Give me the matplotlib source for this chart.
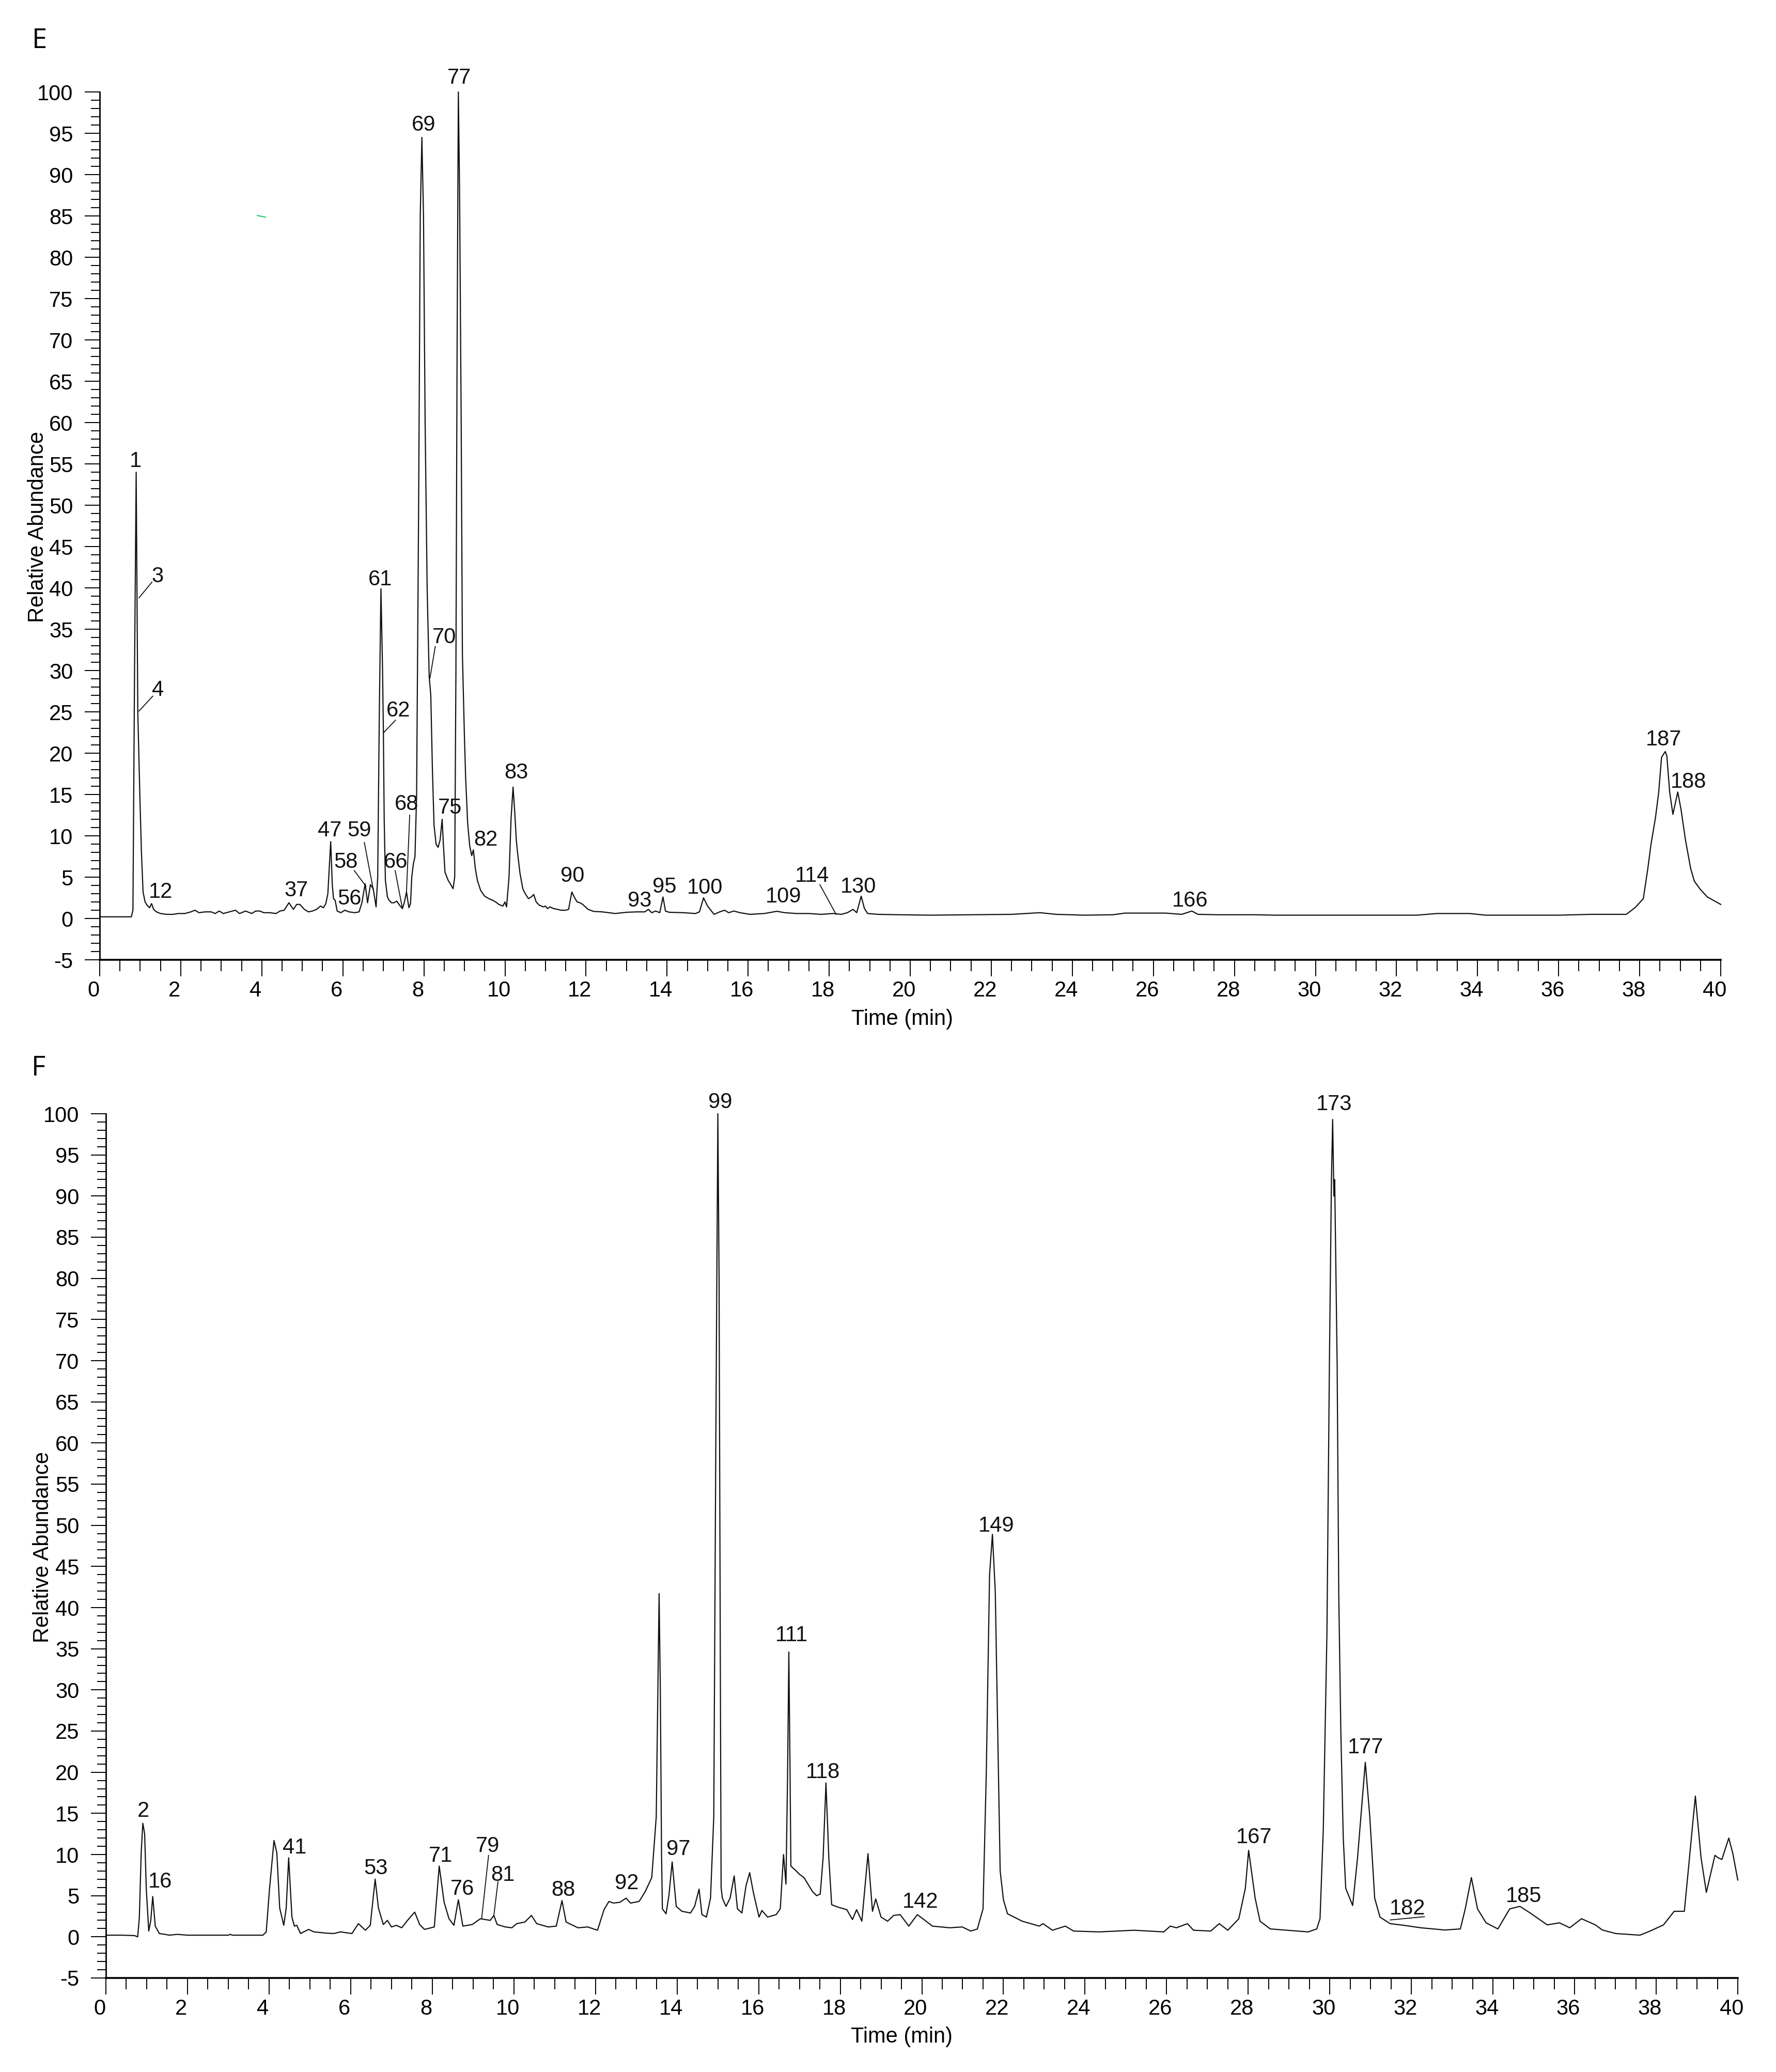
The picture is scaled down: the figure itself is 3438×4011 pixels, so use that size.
import matplotlib
matplotlib.use("Agg")
import matplotlib.pyplot as plt
import matplotlib.transforms as mtransforms
from matplotlib.ticker import MultipleLocator

plt.rcParams["font.family"] = ["Liberation Sans", "DejaVu Sans"]
plt.rcParams["axes.unicode_minus"] = False

# ---- panel E trace (time in min, relative abundance) ----
E_TIME = [0.00, 0.78, 0.82, 0.86, 0.90, 0.92, 0.94, 0.99, 1.03, 1.07, 1.12, 1.17, 1.23, 1.28,
          1.33, 1.40, 1.50, 1.65, 1.80, 1.95, 2.10, 2.25, 2.35, 2.45, 2.60, 2.75, 2.85, 2.95,
          3.05, 3.20, 3.35, 3.45, 3.60, 3.75, 3.85, 3.95, 4.05, 4.20, 4.35, 4.45, 4.55, 4.67,
          4.78, 4.86, 4.94, 5.05, 5.15, 5.25, 5.35, 5.45, 5.52, 5.58, 5.63, 5.70, 5.74, 5.77,
          5.81, 5.86, 5.95, 6.05, 6.15, 6.30, 6.40, 6.47, 6.55, 6.61, 6.68, 6.75, 6.82, 6.86,
          6.90, 6.94, 6.98, 7.00, 7.02, 7.05, 7.10, 7.14, 7.20, 7.26, 7.33, 7.40, 7.47, 7.52,
          7.57, 7.63, 7.67, 7.70, 7.74, 7.78, 7.82, 7.87, 7.91, 7.95, 7.99, 8.03, 8.08, 8.13,
          8.17, 8.21, 8.25, 8.30, 8.35, 8.40, 8.45, 8.48, 8.52, 8.60, 8.65, 8.72, 8.76, 8.79,
          8.82, 8.85, 8.88, 8.92, 8.95, 9.00, 9.03, 9.08, 9.13, 9.18, 9.22, 9.27, 9.32, 9.40,
          9.50, 9.60, 9.70, 9.77, 9.85, 9.90, 9.95, 10.00, 10.04, 10.10, 10.15, 10.20, 10.24,
          10.28, 10.31, 10.37, 10.44, 10.50, 10.58, 10.65, 10.71, 10.77, 10.85, 10.95, 11.00,
          11.05, 11.11, 11.20, 11.30, 11.38, 11.50, 11.57, 11.65, 11.72, 11.78, 11.85, 11.92,
          12.05, 12.19, 12.40, 12.72, 13.00, 13.26, 13.45, 13.54, 13.62, 13.72, 13.82, 13.90,
          13.96, 14.05, 14.40, 14.70, 14.80, 14.90, 15.00, 15.16, 15.30, 15.42, 15.52, 15.65,
          15.80, 16.04, 16.40, 16.71, 16.90, 17.20, 17.50, 17.80, 18.10, 18.30, 18.45, 18.59,
          18.68, 18.79, 18.87, 18.95, 19.20, 19.75, 20.50, 21.50, 22.50, 23.20, 23.60, 24.30,
          25.00, 25.30, 26.30, 26.70, 26.95, 27.10, 27.60, 28.50, 29.00, 32.50, 33.00, 33.80,
          34.20, 36.00, 36.80, 37.67, 37.89, 38.09, 38.20, 38.28, 38.39, 38.47, 38.54, 38.63,
          38.67, 38.74, 38.82, 38.94, 39.02, 39.13, 39.26, 39.35, 39.50, 39.67, 40.00]
E_ABUND = [0.2, 0.2, 1.0, 30, 54, 39, 25, 15, 8, 3.2, 2.0, 1.6, 1.3, 1.8,
           1.1, 0.8, 0.6, 0.5, 0.5, 0.6, 0.6, 0.8, 1.0, 0.7, 0.8, 0.8, 0.6, 0.9,
           0.6, 0.8, 1.0, 0.6, 0.9, 0.6, 0.9, 0.9, 0.7, 0.7, 0.6, 0.9, 1.0, 1.9,
           1.1, 1.7, 1.7, 1.1, 0.8, 0.9, 1.1, 1.5, 1.3, 1.8, 3.0, 9.3, 4.0, 2.4,
           2.2, 0.9, 0.7, 1.0, 0.8, 0.7, 0.8, 1.9, 4.2, 1.9, 4.1, 3.6, 1.4, 5.0,
           25, 39.9, 30, 22.5, 12, 4.6, 2.6, 2.2, 1.9, 1.9, 2.1, 1.6, 1.2, 2.0,
           3.2, 1.3, 1.8, 5.0, 6.6, 7.5, 15, 50, 85, 94.5, 85, 60, 40, 29.3,
           27, 18, 11.3, 9.0, 8.6, 9.5, 12.0, 9.0, 5.6, 4.6, 4.2, 3.6, 5.0, 30,
           70, 100, 88, 60, 32, 22, 17, 11.5, 8.8, 7.6, 8.3, 6.0, 4.6, 3.4,
           2.7, 2.4, 2.2, 2.0, 1.7, 1.6, 1.5, 2.0, 1.4, 5.0, 12, 15.9, 13,
           9.5, 8.0, 5.5, 3.6, 3.0, 2.4, 2.6, 2.9, 2.0, 1.6, 1.4, 1.5,
           1.2, 1.4, 1.2, 1.1, 1.0, 1.0, 1.1, 3.2, 2.5, 2.0, 1.9, 1.7,
           1.1, 0.85, 0.8, 0.6, 0.75, 0.8, 0.8, 1.1, 0.7, 0.9, 0.7, 2.6,
           0.9, 0.75, 0.7, 0.6, 0.8, 2.5, 1.5, 0.5, 0.8, 1.0, 0.7, 0.9,
           0.7, 0.5, 0.6, 0.87, 0.7, 0.6, 0.6, 0.5, 0.6, 0.5, 0.7, 1.1,
           0.7, 2.7, 1.2, 0.6, 0.5, 0.45, 0.4, 0.45, 0.5, 0.7, 0.5, 0.4,
           0.45, 0.65, 0.65, 0.5, 0.9, 0.5, 0.45, 0.45, 0.4, 0.4, 0.6, 0.6,
           0.4, 0.4, 0.5, 0.5, 1.33, 2.4, 6.0, 9.0, 12.2, 15.3, 19.5, 20.2,
           19.7, 15.3, 12.6, 15.3, 13.2, 9.5, 6.0, 4.5, 3.5, 2.6, 1.7]

# peak numbers of panel E and where their text sits (time, abundance)
E_PEAK_IDS = ["1", "3", "4", "12", "37", "47", "56", "58", "59", "61", "62", "66", "68",
              "69", "70", "75", "77", "82", "83", "90", "93", "95", "100", "109", "114",
              "130", "166", "187", "188"]
E_PEAK_T = [0.89, 1.43, 1.43, 1.50, 4.85, 5.68, 6.16, 6.07, 6.41, 6.92, 7.37, 7.30, 7.57,
            7.99, 8.50, 8.64, 8.87, 9.53, 10.28, 11.66, 13.32, 13.94, 14.93, 16.87, 17.58,
            18.72, 26.91, 38.59, 39.20]
E_PEAK_A = [55.3, 41.4, 27.6, 3.2, 3.4, 10.6, 2.4, 6.8, 10.6, 41.0, 25.1, 6.8, 13.8,
            96.0, 34.0, 13.4, 101.7, 9.5, 17.6, 5.1, 2.1, 3.8, 3.7, 2.6, 5.1,
            3.8, 2.1, 21.6, 16.5]
# leader lines: (t0, a0, t1, a1)
E_LEADERS = [(0.97, 38.8, 1.29, 40.7), (0.97, 25.1, 1.31, 26.9), (6.28, 5.8, 6.57, 3.9),
             (6.53, 9.2, 6.75, 3.5), (7.01, 22.5, 7.30, 24.0), (7.29, 5.8, 7.47, 1.2),
             (7.65, 12.5, 7.57, 3.25), (8.28, 32.9, 8.15, 29.1), (17.77, 4.1, 18.17, 0.5)]

# ---- panel F trace ----
F_TIME = [0.00, 0.40, 0.70, 0.78, 0.82, 0.865, 0.905, 0.95, 0.99, 1.05, 1.10, 1.148, 1.21,
          1.31, 1.45, 1.55, 1.75, 2.00, 2.50, 3.00, 3.05, 3.10, 3.50, 3.85, 3.93, 4.01, 4.12,
          4.19, 4.26, 4.36, 4.42, 4.48, 4.56, 4.62, 4.68, 4.77, 4.97, 5.10, 5.40, 5.59, 5.75,
          6.03, 6.19, 6.36, 6.48, 6.60, 6.68, 6.80, 6.90, 7.00, 7.12, 7.25, 7.41, 7.57, 7.69,
          7.81, 8.05, 8.17, 8.29, 8.41, 8.53, 8.64, 8.75, 8.98, 9.18, 9.30, 9.42, 9.51, 9.59,
          9.79, 9.95, 10.07, 10.27, 10.43, 10.56, 10.84, 11.04, 11.18, 11.28, 11.57, 11.81,
          12.05, 12.21, 12.33, 12.44, 12.60, 12.75, 12.86, 13.07, 13.22, 13.38, 13.49, 13.53,
          13.56, 13.59, 13.62, 13.64, 13.73, 13.80, 13.88, 13.98, 14.12, 14.33, 14.43, 14.54,
          14.61, 14.72, 14.82, 14.90, 14.95, 15.00, 15.03, 15.06, 15.08, 15.11, 15.20, 15.30,
          15.40, 15.48, 15.59, 15.69, 15.78, 15.87, 16.01, 16.08, 16.22, 16.43, 16.53, 16.61,
          16.67, 16.71, 16.74, 16.77, 16.79, 16.90, 17.00, 17.11, 17.21, 17.32, 17.42, 17.51,
          17.58, 17.65, 17.72, 17.79, 17.95, 18.16, 18.30, 18.40, 18.53, 18.68, 18.79, 18.87,
          19.00, 19.16, 19.31, 19.47, 19.68, 19.89, 20.05, 20.26, 20.68, 20.99, 21.20, 21.36,
          21.50, 21.58, 21.66, 21.73, 21.80, 21.86, 21.92, 22.00, 22.10, 22.46, 22.88, 22.97,
          23.20, 23.52, 23.72, 24.35, 25.20, 25.93, 26.09, 26.24, 26.51, 26.66, 27.08, 27.29,
          27.50, 27.77, 27.93, 28.01, 28.17, 28.29, 28.54, 28.88, 29.47, 29.68, 29.76, 29.84,
          29.93, 29.99, 30.04, 30.07, 30.10, 30.12, 30.18, 30.22, 30.27, 30.33, 30.39, 30.56,
          30.68, 30.87, 30.98, 31.10, 31.23, 31.48, 31.81, 32.23, 32.82, 33.20, 33.32, 33.47,
          33.62, 33.83, 34.12, 34.41, 34.66, 34.91, 35.33, 35.63, 35.88, 36.17, 36.51, 36.68,
          37.01, 37.60, 37.85, 38.18, 38.44, 38.69, 38.77, 38.96, 39.10, 39.23, 39.44, 39.52,
          39.61, 39.78, 39.88, 40.00]
F_ABUND = [0.2, 0.2, 0.15, 0.0, 2.4, 10.2, 13.8, 12.5, 5.8, 0.7, 2.0, 4.9, 1.3,
           0.4, 0.3, 0.2, 0.3, 0.2, 0.2, 0.2, 0.3, 0.2, 0.2, 0.2, 0.6, 5.8, 11.7,
           10.2, 3.5, 1.4, 3.5, 9.6, 2.4, 1.3, 1.4, 0.4, 0.9, 0.6, 0.45, 0.4, 0.6,
           0.4, 1.6, 0.8, 1.4, 7.0, 3.5, 1.5, 2.0, 1.2, 1.4, 1.1, 2.1, 3.0, 1.5,
           0.9, 1.2, 8.6, 4.2, 2.2, 1.4, 4.5, 1.3, 1.5, 2.2, 2.1, 2.0, 2.6, 1.5,
           1.2, 1.1, 1.6, 1.8, 2.6, 1.6, 1.2, 1.3, 4.4, 1.8, 1.1, 1.2,
           0.8, 3.3, 4.3, 4.1, 4.2, 4.7, 4.1, 4.3, 5.5, 7.2, 14.6, 30,
           41.7, 30, 10, 3.4, 2.8, 5.0, 9.1, 3.7, 3.1, 2.9, 3.7, 5.8,
           2.7, 2.4, 4.7, 14.6, 60, 100, 80, 34, 6.0, 4.7, 3.7, 4.7,
           7.4, 3.4, 2.9, 6.2, 7.8, 5.4, 2.4, 3.2, 2.4, 2.7, 3.4, 10.0,
           6.4, 20, 34.6, 20, 8.6, 8.1, 7.6, 7.2, 6.4, 5.5, 5.0, 5.2,
           9.6, 18.7, 9.6, 3.9, 3.6, 3.3, 2.1, 3.3, 1.9, 10.1, 3.1, 4.6,
           2.4, 1.9, 2.6, 2.7, 1.3, 2.7, 2.1, 1.3, 1.1, 1.2, 0.7, 0.95,
           3.4, 20, 44, 48.9, 42, 25, 8, 4.5, 2.8, 1.9, 1.3, 1.6,
           0.8, 1.3, 0.7, 0.6, 0.8, 0.6, 1.3, 1.1, 1.6, 0.8, 0.7, 1.6,
           0.8, 2.2, 5.9, 10.5, 4.7, 1.9, 0.96, 0.83, 0.6, 0.96, 2.2, 13,
           37, 69.5, 92, 99.3, 90, 92, 69.5, 41.4, 25, 12, 5.9, 3.8,
           9.6, 21.2, 14.6, 4.7, 2.4, 1.6, 1.4, 1.1, 0.83, 0.96, 3.4, 7.2,
           3.4, 1.7, 0.96, 3.4, 3.7, 2.9, 1.45, 1.7, 1.1, 2.2, 1.45, 0.83,
           0.4, 0.2, 0.7, 1.45, 3.1, 3.1, 7.2, 17.1, 9.6, 5.4, 9.9, 9.6,
           9.4, 12.0, 10.1, 6.9]

F_PEAK_IDS = ["2", "16", "41", "53", "71", "76", "79", "81", "88", "92", "97", "99", "111",
              "118", "142", "149", "167", "173", "177", "182", "185"]
F_PEAK_T = [0.92, 1.33, 4.62, 6.61, 8.21, 8.74, 9.36, 9.73, 11.21, 12.77, 14.03, 15.06,
            16.81, 17.58, 19.97, 21.83, 28.14, 30.10, 30.88, 31.90, 34.75]
F_PEAK_A = [15.3, 6.65, 10.8, 8.3, 9.8, 5.8, 11.0, 7.5, 5.7, 6.5, 10.6, 101.4,
            36.6, 20.0, 4.2, 49.9, 12.1, 101.1, 23.0, 3.4, 4.9]
F_LEADERS = [(9.38, 9.9, 9.21, 2.2), (9.61, 6.7, 9.51, 2.6), (31.48, 2.05, 32.32, 2.45)]

W, H = 3438, 4011


def setup_axes(ax):
    ax.set_xlim(0, 40)
    ax.set_ylim(-5, 100)
    for side in ("top", "right"):
        ax.spines[side].set_visible(False)
    ax.spines["left"].set_linewidth(2.0)
    ax.spines["bottom"].set_linewidth(2.6)
    ax.xaxis.set_major_locator(MultipleLocator(2))
    ax.xaxis.set_minor_locator(MultipleLocator(0.5))
    ax.yaxis.set_major_locator(MultipleLocator(5))
    ax.yaxis.set_minor_locator(MultipleLocator(1))
    ax.tick_params(axis="x", which="major", direction="out", length=23, width=1.4,
                   labelsize=30, pad=6)
    ax.tick_params(axis="x", which="minor", direction="out", length=16, width=1.4)
    ax.tick_params(axis="y", which="major", direction="out", length=21, width=1.4,
                   labelsize=30, pad=16)
    ax.tick_params(axis="y", which="minor", direction="out", length=12, width=1.4)
    # tick labels of the original sit a little left of their ticks
    shift = mtransforms.ScaledTranslation(-0.12, 0, ax.figure.dpi_scale_trans)
    for lab in ax.get_xticklabels():
        lab.set_transform(lab.get_transform() + shift)


def draw_panel(ax, time, abund, ids, lab_t, lab_a, leaders):
    ax.plot(time, abund, color="#111111", lw=1.6, clip_on=False)
    for name, t, a in zip(ids, lab_t, lab_a):
        ax.text(t, a, name, ha="center", va="center", fontsize=30, color="#111111")
    for t0, a0, t1, a1 in leaders:
        ax.plot([t0, t1], [a0, a1], color="#111111", lw=1.3)
    setup_axes(ax)


fig = plt.figure(figsize=(W / 100, H / 100), dpi=100)

# axes placed to match the pixel frame of the original
ax_e = fig.add_axes([193 / W, 1 - 1858 / H, 3138 / W, 1680 / H])
ax_f = fig.add_axes([205 / W, 1 - 3829 / H, 3159 / W, 1673 / H])

draw_panel(ax_e, E_TIME, E_ABUND, E_PEAK_IDS, E_PEAK_T, E_PEAK_A, E_LEADERS)
draw_panel(ax_f, F_TIME, F_ABUND, F_PEAK_IDS, F_PEAK_T, F_PEAK_A, F_LEADERS)

# little green stray mark in panel E
ax_e.plot([3.89, 4.09], [85.05, 84.85], color="#2ecc71", lw=1.6)

fig.text(76 / W, 1 - 79 / H, "E", fontsize=38, ha="center", va="center",
         family=["Open Sans", "DejaVu Sans"])
fig.text(74 / W, 1 - 2068 / H, "F", fontsize=38, ha="center", va="center",
         family=["Open Sans", "DejaVu Sans"])
fig.text(73 / W, 1 - 1020 / H, "Relative Abundance", rotation=90, fontsize=30,
         ha="center", va="center")
fig.text(83 / W, 1 - 2995 / H, "Relative Abundance", rotation=90, fontsize=30,
         ha="center", va="center")
fig.text(1746 / W, 1 - 1973 / H, "Time (min)", fontsize=30, ha="center", va="center")
fig.text(1745 / W, 1 - 3943 / H, "Time (min)", fontsize=30, ha="center", va="center")

fig.savefig("out.png", dpi=100)
plt.close(fig)
print("saved out.png")
